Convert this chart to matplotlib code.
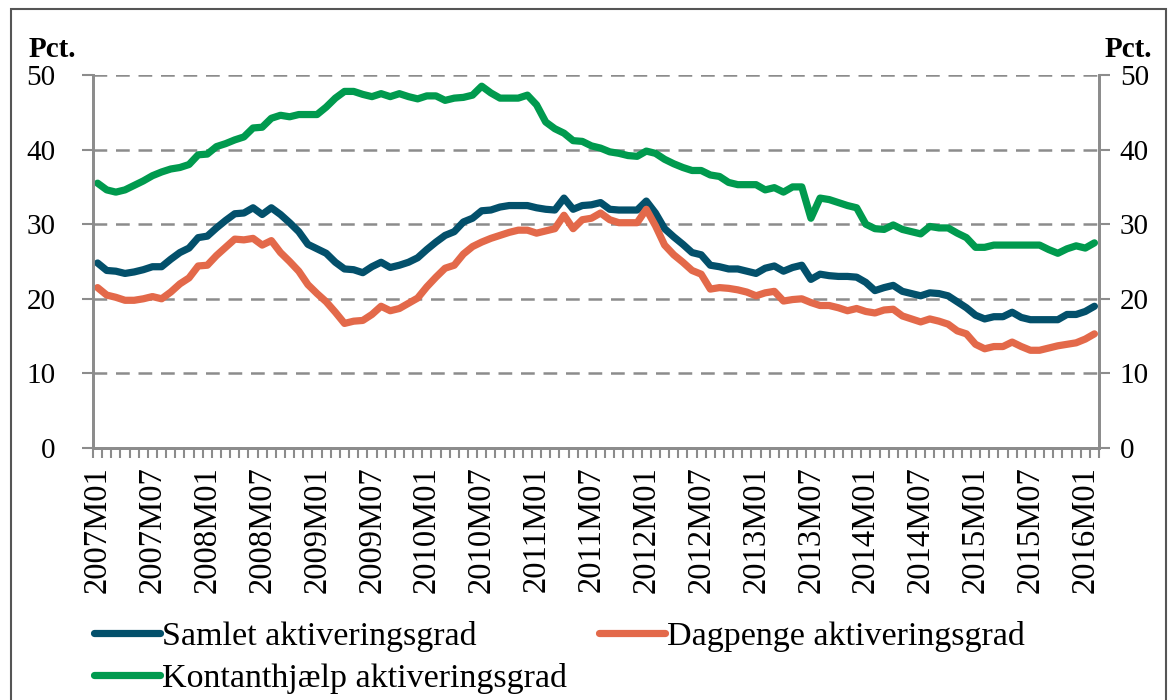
import matplotlib.pyplot as plt
from matplotlib.patches import Rectangle
from matplotlib.ticker import FixedLocator

plt.rcParams['font.family'] = ['Liberation Serif', 'DejaVu Serif']

# maanedlige kategorier 2007M01 - 2016M02
months = [f"{y}M{m:02d}" for y in range(2007, 2017) for m in range(1, 13)][:110]
tick_labels = months[::6]

samlet = [24.8, 23.8, 23.7, 23.4, 23.6, 23.9, 24.3, 24.3, 25.3, 26.2,
          26.8, 28.2, 28.4, 29.5, 30.5, 31.4, 31.5, 32.2, 31.3, 32.2,
          31.3, 30.2, 29.0, 27.3, 26.7, 26.1, 24.9, 24.0, 23.9, 23.5,
          24.3, 24.9, 24.2, 24.5, 24.9, 25.5, 26.6, 27.6, 28.5, 29.0,
          30.3, 30.8, 31.8, 31.9, 32.3, 32.5, 32.5, 32.5, 32.2, 32.0,
          31.9, 33.5, 32.0, 32.5, 32.6, 32.9, 32.0, 31.9, 31.9, 31.9,
          33.1, 31.5, 29.4, 28.3, 27.3, 26.2, 25.9, 24.5, 24.3, 24.0,
          24.0, 23.7, 23.4, 24.1, 24.4, 23.7, 24.2, 24.5, 22.6, 23.3,
          23.1, 23.0, 23.0, 22.9, 22.2, 21.1, 21.5, 21.8, 21.0, 20.7,
          20.4, 20.8, 20.7, 20.4, 19.6, 18.8, 17.8, 17.3, 17.6, 17.6,
          18.2, 17.5, 17.2, 17.2, 17.2, 17.2, 17.9, 17.9, 18.3, 19.0]

dagpenge = [21.5, 20.5, 20.2, 19.8, 19.8, 20.0, 20.3, 20.0, 20.9, 22.0,
            22.8, 24.4, 24.5, 25.8, 26.9, 28.0, 27.9, 28.1, 27.2, 27.8,
            26.2, 25.0, 23.7, 21.9, 20.7, 19.6, 18.2, 16.7, 17.0, 17.1,
            17.9, 19.0, 18.4, 18.7, 19.4, 20.1, 21.6, 22.9, 24.1, 24.5,
            26.0, 27.0, 27.6, 28.1, 28.5, 28.9, 29.2, 29.2, 28.8, 29.1,
            29.4, 31.2, 29.4, 30.6, 30.8, 31.5, 30.6, 30.2, 30.2, 30.2,
            32.0, 29.8, 27.2, 25.9, 24.9, 23.8, 23.3, 21.3, 21.5, 21.4,
            21.2, 20.9, 20.4, 20.8, 21.0, 19.7, 19.9, 20.0, 19.5, 19.1,
            19.1, 18.8, 18.4, 18.7, 18.3, 18.1, 18.5, 18.6, 17.7, 17.3,
            16.9, 17.3, 17.0, 16.6, 15.7, 15.3, 13.9, 13.3, 13.6, 13.6,
            14.2, 13.6, 13.1, 13.1, 13.4, 13.7, 13.9, 14.1, 14.6, 15.3]

kontanthjaelp = [35.5, 34.6, 34.3, 34.6, 35.2, 35.8, 36.5, 37.0, 37.4, 37.6,
                 38.0, 39.3, 39.4, 40.4, 40.8, 41.3, 41.7, 42.9, 43.0, 44.2,
                 44.6, 44.4, 44.7, 44.7, 44.7, 45.7, 46.9, 47.8, 47.8, 47.4,
                 47.1, 47.5, 47.1, 47.5, 47.1, 46.8, 47.2, 47.2, 46.6, 46.9,
                 47.0, 47.3, 48.5, 47.6, 46.9, 46.9, 46.9, 47.3, 46.0, 43.7,
                 42.8, 42.2, 41.2, 41.1, 40.5, 40.2, 39.7, 39.5, 39.2, 39.1,
                 39.8, 39.5, 38.7, 38.1, 37.6, 37.2, 37.2, 36.6, 36.4, 35.6,
                 35.3, 35.3, 35.3, 34.6, 34.9, 34.3, 35.0, 35.0, 30.8, 33.5,
                 33.3, 32.9, 32.5, 32.2, 30.0, 29.4, 29.3, 29.9, 29.3, 29.0,
                 28.7, 29.7, 29.5, 29.5, 28.8, 28.2, 26.9, 26.9, 27.2, 27.2,
                 27.2, 27.2, 27.2, 27.2, 26.6, 26.1, 26.7, 27.1, 26.8, 27.5]

series = [
    ("Samlet aktiveringsgrad", samlet, "#03506b"),
    ("Kontanthjælp aktiveringsgrad", kontanthjaelp, "#009a4e"),
    ("Dagpenge aktiveringsgrad", dagpenge, "#e3694a"),
]

W, H = 1169, 700
fig = plt.figure(figsize=(W / 100, H / 100), dpi=100)
ax = fig.add_axes([93 / W, 1 - 448 / H, (1099 - 93) / W, (448 - 75) / H])

gray = "#8c8c8c"
x = list(range(len(months)))
for name, vals, col in series:
    ax.plot(x, vals, color=col, lw=5.2, label=name, solid_capstyle='round',
            solid_joinstyle='round', zorder=3)

ax.set_xlim(-0.5, len(months) - 0.5)
ax.set_ylim(0, 50)
ax.set_yticks([0, 10, 20, 30, 40, 50])
ax.yaxis.grid(True, color=gray, lw=1.8, dashes=(5.5, 3.5))
ax.set_axisbelow(True)

ax.set_xticks(x[::6])
ax.set_xticklabels(tick_labels, rotation=90, fontsize=23.5)
ax.xaxis.set_minor_locator(FixedLocator([i - 0.5 for i in range(len(months) + 1)]))
ax.tick_params(axis='x', which='major', length=0, pad=13)
ax.tick_params(axis='x', which='minor', length=7, width=1.5, color=gray)
ax.tick_params(axis='y', which='major', length=8, width=1.5, color=gray,
               labelsize=21, pad=19)

ax2 = ax.twinx()
ax2.set_ylim(0, 50)
ax2.set_yticks([0, 10, 20, 30, 40, 50])
ax2.tick_params(axis='y', length=8, width=1.5, color=gray, labelsize=21, pad=7)

for a in (ax, ax2):
    a.spines['top'].set_visible(False)
    for s in ('left', 'right', 'bottom'):
        a.spines[s].set_color(gray)
        a.spines[s].set_linewidth(2)

fig.text(29 / W, 1 - 57 / H, "Pct.", fontsize=21, fontweight='bold')
fig.text(1105 / W, 1 - 57 / H, "Pct.", fontsize=21, fontweight='bold')

fig.legend(loc='upper left', bbox_to_anchor=(80 / W, 1 - 607 / H), ncol=2,
           frameon=False, fontsize=24.5, handlelength=1.95, handletextpad=0.05,
           columnspacing=0.95, labelspacing=0.32, borderaxespad=0)

# ramme omkring figuren
fig.patches.append(Rectangle((11 / W, -0.02), 1155 / W, 1.02 - 9 / H,
                             transform=fig.transFigure, fill=False,
                             ec="#555555", lw=1.5))

fig.savefig("out.png", dpi=100)
